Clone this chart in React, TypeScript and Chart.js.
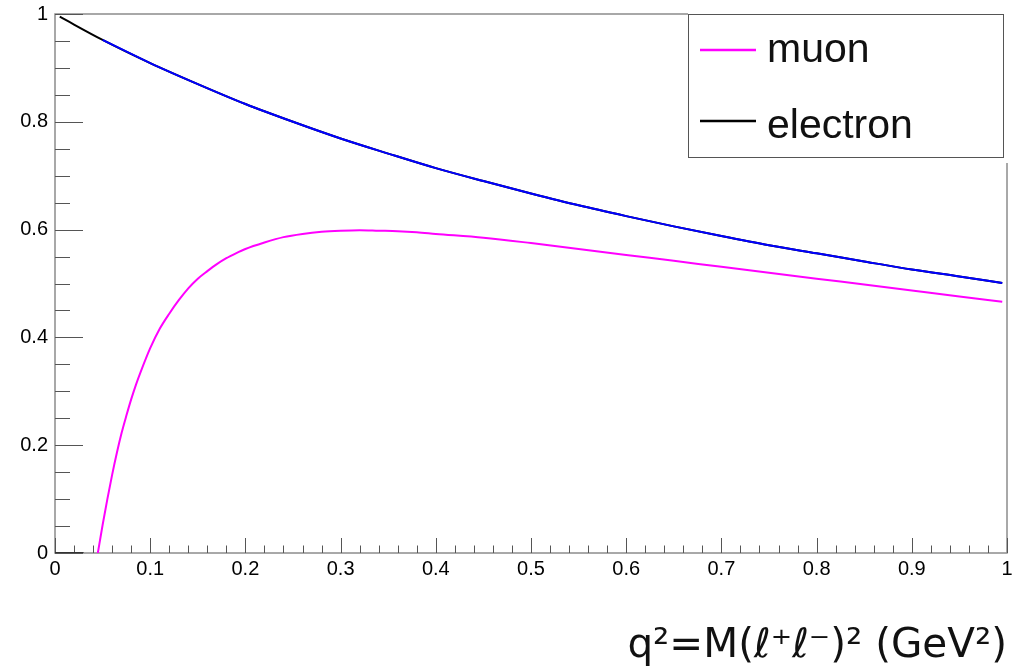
import React, { useEffect, useRef } from "react";
import { Chart, registerables } from "chart.js";

Chart.register(...registerables);

// Axis ticks
const X_TICKS = [0, 0.1, 0.2, 0.3, 0.4, 0.5, 0.6, 0.7, 0.8, 0.9, 1];
const Y_TICKS = [0, 0.2, 0.4, 0.6, 0.8, 1];

// Electron curve (q^2 in GeV^2 → ratio)
const electronQ2 = [
  0.005, 0.05, 0.1, 0.15, 0.2, 0.25, 0.3, 0.35, 0.4, 0.45, 0.5, 0.55, 0.6, 0.65,
  0.7, 0.75, 0.8, 0.85, 0.9, 0.95, 0.995,
];
const electronRatio = [
  0.995, 0.952, 0.909, 0.87, 0.833, 0.8, 0.769, 0.741, 0.714, 0.69, 0.667, 0.645,
  0.625, 0.606, 0.588, 0.571, 0.556, 0.541, 0.526, 0.513, 0.501,
];
// The blue overlay follows the electron curve from this q^2 on
const overlayFromQ2 = 0.05;

// Muon curve, opening at the dimuon threshold
const muonQ2 = [
  0.045, 0.05, 0.055, 0.06, 0.065, 0.07, 0.075, 0.08, 0.085, 0.09, 0.1, 0.11, 0.12,
  0.13, 0.14, 0.15, 0.16, 0.17, 0.18, 0.19, 0.2, 0.22, 0.24, 0.26, 0.28, 0.3, 0.32,
  0.34, 0.36, 0.38, 0.4, 0.45, 0.5, 0.55, 0.6, 0.65, 0.7, 0.75, 0.8, 0.85, 0.9,
  0.95, 0.995,
];
const muonRatio = [
  0, 0.052, 0.1, 0.145, 0.186, 0.223, 0.255, 0.285, 0.312, 0.336, 0.38, 0.416,
  0.444, 0.469, 0.491, 0.509, 0.523, 0.536, 0.547, 0.556, 0.564, 0.576, 0.586,
  0.592, 0.596, 0.598, 0.599, 0.598, 0.597, 0.595, 0.592, 0.585, 0.575, 0.564,
  0.553, 0.542, 0.531, 0.52, 0.509, 0.498, 0.487, 0.476, 0.466,
];

// Below-threshold muon segment lying on zero
const belowThresholdQ2 = [0, 0.03];
const belowThresholdRatio = [0, 0];

const MUON_COLOR = "#ff00ff";
const ELECTRON_COLOR = "#000000";
const OVERLAY_COLOR = "#0000ff";

const LEGEND_ITEMS = [
  { label: "muon", color: MUON_COLOR },
  { label: "electron", color: ELECTRON_COLOR },
];

const X_TITLE = "q²=M(ℓ⁺ℓ⁻)² (GeV²)";

const toPoints = (xs: number[], ys: number[]) => xs.map((x, i) => ({ x, y: ys[i] }));

const TICK_FONT = { family: '"Liberation Sans", Arial, sans-serif', size: 20 };

// Frame and inward-pointing ticks
const framePlugin = {
  id: "frameTicks",
  beforeDatasetsDraw(chart: any) {
    const { ctx, chartArea: a, scales } = chart;
    const xs = scales.x;
    const ys = scales.y;
    ctx.save();
    ctx.strokeStyle = "#8c8c8c";
    ctx.lineWidth = 1.5;
    ctx.strokeRect(a.left, a.top, a.right - a.left, a.bottom - a.top);

    ctx.strokeStyle = "#555555";
    ctx.lineWidth = 1;
    ctx.beginPath();
    for (let i = 0; i <= 50; i++) {
      const px = Math.round(xs.getPixelForValue(i / 50)) + 0.5;
      const len = i % 5 === 0 ? 15 : 7.5;
      ctx.moveTo(px, a.bottom);
      ctx.lineTo(px, a.bottom - len);
    }
    for (let i = 0; i <= 20; i++) {
      const py = Math.round(ys.getPixelForValue(i / 20)) + 0.5;
      const len = i % 4 === 0 ? 28 : 15;
      ctx.moveTo(a.left, py);
      ctx.lineTo(a.left + len, py);
    }
    ctx.stroke();
    ctx.restore();
  },
};

// Boxed legend in the upper right corner
const legendPlugin = {
  id: "boxLegend",
  afterDraw(chart: any) {
    const { ctx } = chart;
    const left = 688;
    const top = 14;
    const right = 1003;
    const bottom = 157;
    ctx.save();
    ctx.fillStyle = "#ffffff";
    ctx.fillRect(left, top - 1, right - left + 6, bottom - top + 7);
    ctx.strokeStyle = "#555555";
    ctx.lineWidth = 1;
    ctx.strokeRect(left + 0.5, top + 0.5, right - left, bottom - top);

    const rows = [
      { lineY: 50, textY: 62 },
      { lineY: 121, textY: 138 },
    ];
    ctx.font = '41px "Liberation Sans", Arial, sans-serif';
    ctx.textBaseline = "alphabetic";
    ctx.textAlign = "left";
    LEGEND_ITEMS.forEach((item, i) => {
      const r = rows[i];
      ctx.strokeStyle = item.color;
      ctx.lineWidth = 2.5;
      ctx.beginPath();
      ctx.moveTo(700, r.lineY);
      ctx.lineTo(756, r.lineY);
      ctx.stroke();
      ctx.fillStyle = "#111111";
      ctx.fillText(item.label, 767, r.textY);
    });
    ctx.restore();
  },
};

export default function App() {
  const canvasRef = useRef<HTMLCanvasElement | null>(null);

  useEffect(() => {
    const canvas = canvasRef.current;
    if (!canvas) return;
    const overlayStart = electronQ2.indexOf(overlayFromQ2);
    const chart = new Chart(canvas, {
      type: "scatter",
      data: {
        datasets: [
          {
            label: "muon",
            data: toPoints(muonQ2, muonRatio),
            borderColor: MUON_COLOR,
            borderWidth: 2,
            showLine: true,
            pointRadius: 0,
            cubicInterpolationMode: "monotone",
          },
          {
            label: "electron overlay",
            data: toPoints(electronQ2.slice(overlayStart), electronRatio.slice(overlayStart)),
            borderColor: OVERLAY_COLOR,
            borderWidth: 2,
            showLine: true,
            pointRadius: 0,
            cubicInterpolationMode: "monotone",
          },
          {
            label: "electron",
            data: toPoints(electronQ2, electronRatio),
            borderColor: ELECTRON_COLOR,
            borderWidth: 2,
            showLine: true,
            pointRadius: 0,
            cubicInterpolationMode: "monotone",
          },
          {
            label: "below threshold",
            data: toPoints(belowThresholdQ2, belowThresholdRatio),
            borderColor: "#333333",
            borderWidth: 2,
            showLine: true,
            pointRadius: 0,
          },
        ],
      },
      options: {
        responsive: false,
        devicePixelRatio: 1,
        animation: false,
        events: [],
        layout: { padding: { top: 14, right: 19, left: 0, bottom: 0 } },
        plugins: {
          legend: { display: false },
          tooltip: { enabled: false },
        },
        scales: {
          x: {
            type: "linear",
            min: 0,
            max: 1,
            afterBuildTicks: (s: any) => {
              s.ticks = X_TICKS.map((v) => ({ value: v }));
            },
            afterFit: (s: any) => {
              s.height = 118;
            },
            grid: { display: false, drawTicks: false },
            border: { display: false },
            ticks: {
              font: TICK_FONT,
              color: "#000000",
              padding: 4,
              maxRotation: 0,
              autoSkip: false,
              callback: (v: any) => String(Math.round(Number(v) * 10) / 10),
            },
            title: {
              display: true,
              text: X_TITLE,
              align: "end",
              color: "#111111",
              font: { family: '"DejaVu Sans", sans-serif', size: 40.5, lineHeight: 1.2 },
              padding: { top: 0, bottom: 0 },
            },
          },
          y: {
            type: "linear",
            min: 0,
            max: 1,
            afterBuildTicks: (s: any) => {
              s.ticks = Y_TICKS.map((v) => ({ value: v }));
            },
            afterFit: (s: any) => {
              s.width = 55;
            },
            grid: { display: false, drawTicks: false },
            border: { display: false },
            ticks: {
              font: { ...TICK_FONT, lineHeight: 0.5 },
              color: "#000000",
              padding: 7,
              autoSkip: false,
              callback: (v: any) => String(Math.round(Number(v) * 10) / 10),
            },
          },
        },
      },
      plugins: [framePlugin, legendPlugin],
    });
    return () => chart.destroy();
  }, []);

  return (
    <div
      style={{
        position: "absolute",
        left: 0,
        top: 0,
        width: 1026,
        height: 671,
        background: "#ffffff",
      }}
    >
      <canvas ref={canvasRef} width={1026} height={671} style={{ display: "block" }} />
    </div>
  );
}
